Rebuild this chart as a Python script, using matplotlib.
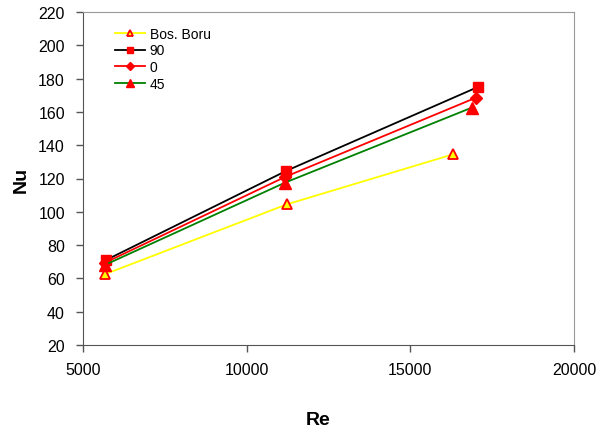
import matplotlib
matplotlib.use("Agg")
import matplotlib.pyplot as plt

plt.rcParams['font.family'] = ['Liberation Sans', 'DejaVu Sans']

# values
re_bos = [5670, 11230, 16300]
nu_bos = [62.5, 104.5, 134.5]

re_90 = [5700, 11200, 17070]
nu_90 = [71, 124.5, 175]

re_0 = [5680, 11180, 17000]
nu_0 = [69.5, 121, 168.5]

re_45 = [5660, 11170, 16870]
nu_45 = [68, 117.5, 162.5]

fig = plt.figure(figsize=(6.07, 4.39), dpi=100)
ax = fig.add_axes([83 / 607, 1 - 346 / 439, (574 - 83) / 607, (346 - 13) / 439])

ax.plot(re_bos, nu_bos, color="#ffff00", lw=1.3, marker="^", ms=7,
        mfc="#ffff00", mec="#ff0000", mew=1.3, label="Bos. Boru", zorder=3)
ax.plot(re_90, nu_90, color="black", lw=1.3, marker="s", ms=7,
        mfc="#ff0000", mec="#ff0000", label="90", zorder=4)
ax.plot(re_0, nu_0, color="#ff0000", lw=1.3, marker="D", ms=6,
        mfc="#ff0000", mec="#ff0000", label="0", zorder=5)
ax.plot(re_45, nu_45, color="#008000", lw=1.3, marker="^", ms=8,
        mfc="#ff0000", mec="#ff0000", label="45", zorder=6)

ax.set_xlim(5000, 20000)
ax.set_ylim(20, 220)
ax.set_xticks([5000, 10000, 15000, 20000])
ax.set_yticks(range(20, 221, 20))
ax.tick_params(direction="out", length=5, width=1, color="#555555",
               labelsize=11.5)
ax.tick_params(axis="y", pad=8)
ax.tick_params(axis="x", pad=7)

for side in ["left", "bottom"]:
    ax.spines[side].set_color("#555555")
for side in ["top", "right"]:
    ax.spines[side].set_color("#999999")

ax.set_xlabel("Re", fontsize=14, fontweight="bold")
ax.set_ylabel("Nu", fontsize=14, fontweight="bold")
ax.xaxis.set_label_coords(0.479, -0.197)
ax.yaxis.set_label_coords(-0.108, 0.5)

leg = ax.legend(loc="upper left", bbox_to_anchor=(0.045, 0.985), frameon=False,
                fontsize=10, handlelength=2.2, handletextpad=0.3,
                labelspacing=0.2, borderpad=0.2, markerscale=0.7)

fig.savefig("out.png", dpi=100)
